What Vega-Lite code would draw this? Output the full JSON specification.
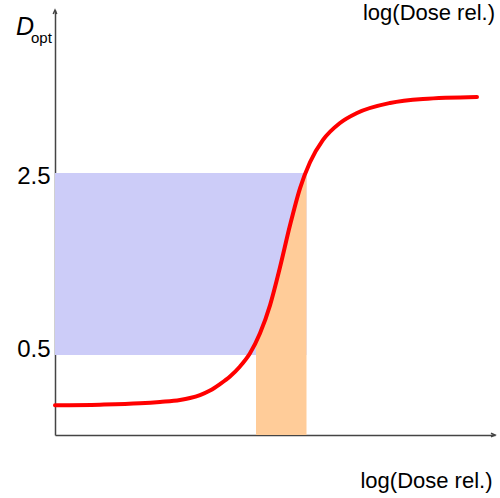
{
  "$schema": "https://vega.github.io/schema/vega-lite/v6.json",
  "width": 440,
  "height": 425,
  "autosize": {"type": "none"},
  "padding": {"left": 55, "top": 10, "right": 5, "bottom": 63},
  "background": "white",
  "config": {"view": {"stroke": null}, "font": "Liberation Sans"},
  "datasets": {
    "curve": [
      {"x": 0, "y": -0.053}, {"x": 45, "y": -0.046}, {"x": 85, "y": -0.031}, {"x": 105, "y": -0.016},
      {"x": 125, "y": 0.005}, {"x": 135, "y": 0.027}, {"x": 145, "y": 0.06}, {"x": 155, "y": 0.11},
      {"x": 165, "y": 0.181}, {"x": 175, "y": 0.264}, {"x": 185, "y": 0.374}, {"x": 195, "y": 0.519},
      {"x": 205, "y": 0.738}, {"x": 215, "y": 1.046}, {"x": 225, "y": 1.464}, {"x": 235, "y": 1.925},
      {"x": 245, "y": 2.332}, {"x": 255, "y": 2.618}, {"x": 268, "y": 2.863}, {"x": 285, "y": 3.049},
      {"x": 302, "y": 3.159}, {"x": 335, "y": 3.269}, {"x": 368, "y": 3.313}, {"x": 422, "y": 3.335}
    ],
    "band": [
      {"x": 201, "y": 0.651}, {"x": 205, "y": 0.738}, {"x": 215, "y": 1.046}, {"x": 225, "y": 1.464},
      {"x": 235, "y": 1.925}, {"x": 245, "y": 2.332}, {"x": 251.5, "y": 2.518}
    ],
    "box": [{"x1": 0, "x2": 251.5, "y1": 0.5, "y2": 2.5}],
    "yarrow": [{"x": 0, "y": 4.291}],
    "xarrow": [{"x": 440, "y": -0.379}],
    "dlabel": [{"x": -39, "y": 4.016, "t": "D"}],
    "sublabel": [{"x": -24, "y": 3.925, "t": "opt"}],
    "toplabel": [{"x": 440, "y": 4.181, "t": "log(Dose rel.)"}]
  },
  "layer": [
    {
      "data": {"name": "box"},
      "mark": {"type": "rect", "color": "#ccccf8"},
      "encoding": {
        "x": {"field": "x1", "type": "quantitative", "scale": {"domain": [0, 440], "nice": false, "zero": false},
          "axis": {"domain": true, "domainColor": "#444444", "domainWidth": 1.5, "ticks": false, "labels": false, "grid": false,
            "title": "log(Dose rel.)", "titleFont": "Liberation Sans", "titleFontSize": 22, "titleFontWeight": "normal",
            "titleAnchor": "end", "titleAlign": "right", "titleBaseline": "alphabetic", "titleX": 437, "titleY": 52, "titleColor": "black"}},
        "x2": {"field": "x2"},
        "y": {"field": "y1", "type": "quantitative", "scale": {"domain": [-0.379, 4.291], "nice": false, "zero": false},
          "axis": {"domain": true, "domainColor": "#444444", "domainWidth": 1.5, "ticks": false, "grid": false, "values": [0.5, 2.5],
            "labelFont": "Liberation Sans", "labelFontSize": 24, "labelColor": "black", "labelPadding": 5,
            "labelBaseline": "middle", "labelOffset": {"condition": {"test": "datum.value > 1", "value": 4}, "value": -6},
            "labelExpr": "datum.value == 2.5 ? '2.5' : '0.5'", "title": null}},
        "y2": {"field": "y2"}
      }
    },
    {
      "data": {"name": "band"},
      "mark": {"type": "area", "color": "#ffcc99", "opacity": 1, "interpolate": "monotone"},
      "encoding": {
        "x": {"field": "x", "type": "quantitative"},
        "y": {"field": "y", "type": "quantitative"},
        "y2": {"datum": -0.379}
      }
    },
    {
      "data": {"name": "curve"},
      "mark": {"type": "line", "color": "#ff0000", "strokeWidth": 4, "interpolate": "monotone", "strokeCap": "round"},
      "encoding": {
        "x": {"field": "x", "type": "quantitative"},
        "y": {"field": "y", "type": "quantitative"}
      }
    },
    {
      "data": {"name": "yarrow"},
      "mark": {"type": "point", "shape": "M-0.45,1L0,0L0.45,1", "filled": false, "stroke": "#444444", "strokeWidth": 1.5, "size": 64, "opacity": 1},
      "encoding": {
        "x": {"field": "x", "type": "quantitative"},
        "y": {"field": "y", "type": "quantitative"}
      }
    },
    {
      "data": {"name": "xarrow"},
      "mark": {"type": "point", "shape": "M-1,-0.45L0,0L-1,0.45", "filled": false, "stroke": "#444444", "strokeWidth": 1.5, "size": 64, "opacity": 1},
      "encoding": {
        "x": {"field": "x", "type": "quantitative"},
        "y": {"field": "y", "type": "quantitative"}
      }
    },
    {
      "data": {"name": "dlabel"},
      "mark": {"type": "text", "font": "Liberation Sans", "fontSize": 25, "fontStyle": "italic", "align": "left", "baseline": "alphabetic", "color": "black"},
      "encoding": {
        "x": {"field": "x", "type": "quantitative"},
        "y": {"field": "y", "type": "quantitative"},
        "text": {"field": "t"}
      }
    },
    {
      "data": {"name": "sublabel"},
      "mark": {"type": "text", "font": "Liberation Sans", "fontSize": 15, "align": "left", "baseline": "alphabetic", "color": "black"},
      "encoding": {
        "x": {"field": "x", "type": "quantitative"},
        "y": {"field": "y", "type": "quantitative"},
        "text": {"field": "t"}
      }
    },
    {
      "data": {"name": "toplabel"},
      "mark": {"type": "text", "font": "Liberation Sans", "fontSize": 22, "align": "right", "baseline": "alphabetic", "color": "black"},
      "encoding": {
        "x": {"field": "x", "type": "quantitative"},
        "y": {"field": "y", "type": "quantitative"},
        "text": {"field": "t"}
      }
    }
  ]
}
